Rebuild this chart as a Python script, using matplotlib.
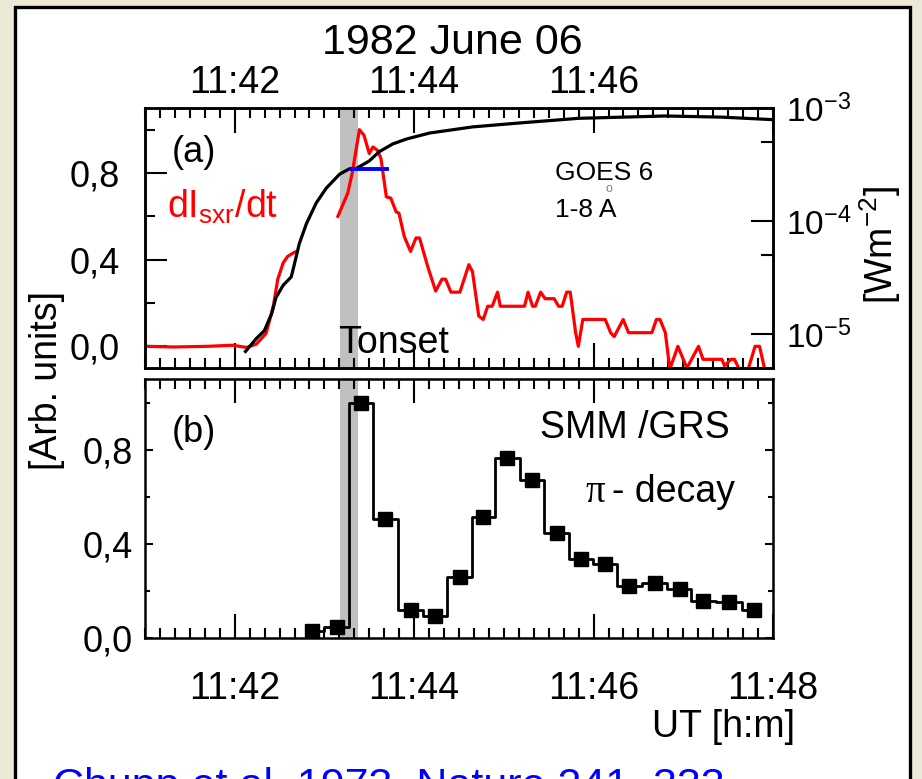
import numpy as np
import matplotlib.pyplot as plt
from matplotlib.patches import Rectangle
from matplotlib.ticker import MultipleLocator, FixedLocator, FuncFormatter, NullFormatter

# tid i minuter efter 11:40 UT
goes_t = [2.12, 2.24, 2.33, 2.41, 2.46, 2.54, 2.63, 2.67, 2.72, 2.80, 2.91, 3.02, 3.17,
          3.28, 3.35, 3.50, 3.61, 3.76, 3.91, 4.17, 4.65, 5.20, 5.83, 6.80, 7.43, 7.98]
goes_flux = [7.0e-6, 9.1e-6, 1.07e-5, 1.5e-5, 2.1e-5, 2.7e-5, 3.2e-5, 4.3e-5, 6.3e-5, 9.5e-5,
             1.45e-4, 1.95e-4, 2.6e-4, 2.9e-4, 2.9e-4, 3.4e-4, 4.1e-4, 4.8e-4, 5.3e-4, 6.0e-4,
             6.8e-4, 7.4e-4, 8.1e-4, 8.5e-4, 8.3e-4, 7.9e-4]

dI_t1 = [1.01, 1.31, 1.69, 1.98, 2.13, 2.24, 2.35, 2.43, 2.48, 2.54, 2.59, 2.67]
dI_v1 = [0.0, -0.003, 0.0, 0.005, -0.005, 0.01, 0.06, 0.185, 0.31, 0.385, 0.415, 0.435]

dI_t2 = [3.15, 3.26, 3.31, 3.39, 3.44, 3.50, 3.54, 3.59, 3.63, 3.69, 3.74, 3.80, 3.83, 3.89,
         3.96, 4.02, 4.06, 4.15, 4.24, 4.31, 4.35, 4.41, 4.51, 4.61, 4.65, 4.72, 4.77, 4.82,
         4.87, 4.93, 4.96, 5.23, 5.27, 5.32, 5.35, 5.41, 5.46, 5.56, 5.61, 5.65, 5.70, 5.74,
         5.80, 5.83, 5.88, 6.13, 6.19, 6.23, 6.33, 6.39, 6.65, 6.70, 6.74, 6.80, 6.85, 6.94,
         7.04, 7.17, 7.22, 7.43, 7.46, 7.53, 7.57, 7.63, 7.72, 7.80, 7.85, 7.91]
dI_v2 = [0.60, 0.707, 0.80, 1.0, 0.975, 0.89, 0.92, 0.905, 0.867, 0.69, 0.684, 0.62, 0.615, 0.507,
         0.438, 0.50, 0.50, 0.37, 0.255, 0.31, 0.31, 0.25, 0.25, 0.377, 0.345, 0.14, 0.124, 0.185,
         0.185, 0.25, 0.185, 0.185, 0.25, 0.185, 0.185, 0.25, 0.22, 0.22, 0.185, 0.185, 0.25, 0.25,
         0.063, 0.0, 0.124, 0.124, 0.063, 0.045, 0.124, 0.063, 0.063, 0.124, 0.124, 0.063, -0.105, 0.0,
         -0.1, 0.0, -0.06, -0.06, -0.09, -0.06, -0.06, -0.11, -0.11, 0.0, 0.0, -0.11]

smm_t = [2.86, 3.14, 3.41, 3.68, 3.96, 4.23, 4.51, 4.77, 5.04, 5.31, 5.59, 5.86, 6.13,
         6.40, 6.68, 6.96, 7.22, 7.51, 7.79]
smm_v = [0.03, 0.046, 1.0, 0.506, 0.121, 0.093, 0.257, 0.513, 0.766, 0.670, 0.445, 0.335,
         0.314, 0.221, 0.235, 0.207, 0.157, 0.151, 0.117]

onset_band = [3.17, 3.37]
half_t = [3.31, 3.70]
half_flux = 2.9e-4

bottom_ticks = [2, 4, 6, 8]
bottom_labels = ['11:42', '11:44', '11:46', '11:48']
top_labels = ['11:42', '11:44', '11:46', '']
y_ticks = [0, 0.4, 0.8]
y_labels = ['0,0', '0,4', '0,8']

plt.rcParams['font.family'] = ['Liberation Sans', 'DejaVu Sans']
plt.rcParams['axes.linewidth'] = 1.8

W, H = 922, 779
fig = plt.figure(figsize=(W / 100, H / 100), dpi=100, facecolor='#ece9d8')


def fx(x):
    return x / W


def fy(y):
    return 1 - y / H


# vit ram
fig.add_artist(Rectangle((fx(15), -0.05), fx(910) - fx(15), fy(7) + 0.05,
                         transform=fig.transFigure, facecolor='white',
                         edgecolor='black', lw=2.4, zorder=-1))

ax_a = fig.add_axes([fx(145), fy(368), fx(773) - fx(145), fy(108) - fy(368)])
ax_b = fig.add_axes([fx(145), fy(638), fx(773) - fx(145), fy(379) - fy(638)])

# (a) dI/dt och GOES
ax_a.axvspan(*onset_band, color='#c0c0c0', lw=0, zorder=0)
ax_a.plot(dI_t1, dI_v1, color='red', lw=2.3)
ax_a.plot(dI_t2, dI_v2, color='red', lw=2.3)
ax_a.set_xlim(1, 8)
ax_a.set_ylim(-0.1, 1.1)
ax_a.set_xticks(bottom_ticks)
ax_a.set_xticklabels(top_labels)
ax_a.xaxis.set_minor_locator(MultipleLocator(1 / 6))
ax_a.set_yticks(y_ticks)
ax_a.set_yticklabels(y_labels)
ax_a.yaxis.set_minor_locator(FixedLocator([0.2, 0.6, 1.0]))
ax_a.tick_params(axis='x', which='both', direction='in', top=True, bottom=True,
                 labeltop=True, labelbottom=False, labelsize=27, pad=5, width=1.5)
ax_a.tick_params(axis='x', which='major', length=18)
ax_a.tick_params(axis='x', which='minor', length=7)
ax_a.tick_params(axis='y', which='both', direction='in', left=True, right=False,
                 labelsize=26, pad=18, width=1.5)
ax_a.tick_params(axis='y', which='major', length=16)
ax_a.tick_params(axis='y', which='minor', length=7)

ax_r = ax_a.twinx()
ax_r.set_yscale('log')
ax_r.set_ylim(5e-6, 1e-3)
ax_r.plot(goes_t, goes_flux, color='black', lw=2.3)
ax_r.plot(half_t, [half_flux, half_flux], color='blue', lw=2.8)
ax_r.yaxis.set_major_locator(FixedLocator([1e-5, 1e-4, 1e-3]))
ax_r.yaxis.set_minor_locator(FixedLocator([5e-5, 5e-4]))
ax_r.yaxis.set_major_formatter(FuncFormatter(
    lambda v, p: r'$\mathregular{10^{%d}}$' % round(np.log10(v))))
ax_r.yaxis.set_minor_formatter(NullFormatter())
ax_r.tick_params(axis='y', which='both', direction='in', labelsize=24, pad=9, width=1.5)
ax_r.tick_params(axis='y', which='major', length=16)
ax_r.tick_params(axis='y', which='minor', length=8.5)

# (b) SMM/GRS
ax_b.axvspan(*onset_band, color='#c0c0c0', lw=0, zorder=0)
ax_b.plot(smm_t, smm_v, color='black', lw=2, drawstyle='steps-mid',
          marker='s', ms=10, mfc='black', mec='black')
ax_b.set_xlim(1, 8)
ax_b.set_ylim(0, 1.1)
ax_b.set_xticks(bottom_ticks)
ax_b.set_xticklabels(bottom_labels)
ax_b.xaxis.set_minor_locator(MultipleLocator(1 / 6))
ax_b.set_yticks(y_ticks)
ax_b.set_yticklabels(y_labels)
ax_b.yaxis.set_minor_locator(FixedLocator([0.2, 0.6, 1.0]))
ax_b.tick_params(axis='x', which='both', direction='in', top=True, bottom=True,
                 labelsize=27, pad=24, width=1.5)
ax_b.tick_params(axis='x', which='major', length=17)
ax_b.tick_params(axis='x', which='minor', length=7)
ax_b.tick_params(axis='y', which='both', direction='in', left=True, right=True,
                 labelsize=26, pad=9, width=1.5)
ax_b.tick_params(axis='y', which='major', length=6)
ax_b.tick_params(axis='y', which='minor', length=3.5)

# texter
fig.text(fx(452), fy(54), '1982 June 06', fontsize=31, ha='center', va='baseline')
fig.text(fx(172), fy(162), '(a)', fontsize=26, va='baseline')
fig.text(fx(167), fy(218), r'dI$_{\mathregular{sxr}}$/dt', color='red', fontsize=27, va='baseline')
fig.text(fx(555), fy(180), 'GOES 6', fontsize=19, va='baseline')
fig.text(fx(555), fy(217), '1-8 A', fontsize=19, va='baseline')
fig.text(fx(609), fy(189), 'o', fontsize=9, color='gray', ha='center', va='center')
fig.text(fx(338), fy(353), 'Tonset', fontsize=27, va='baseline')
fig.text(fx(172), fy(442), '(b)', fontsize=26, va='baseline')
fig.text(fx(540), fy(438), 'SMM /GRS', fontsize=27, va='baseline')
fig.text(fx(585), fy(502), 'π', fontsize=28, family='Liberation Serif', va='baseline')
fig.text(fx(612), fy(502), '- decay', fontsize=27, va='baseline')
fig.text(fx(795), fy(737), 'UT [h:m]', fontsize=27, ha='right', va='baseline')
fig.text(fx(47), fy(380), '[Arb. units]', fontsize=27, rotation=90,
         ha='center', va='center')
fig.text(fx(880), fy(245), r'[Wm$^{\mathregular{-2}}$]', fontsize=27,
         rotation=90, ha='center', va='center')
fig.text(fx(53), fy(767), 'Chupp et al. 1973, Nature 241, 333', color='blue',
         fontsize=31, va='top')

plt.savefig('out.png', dpi=100, facecolor=fig.get_facecolor())
